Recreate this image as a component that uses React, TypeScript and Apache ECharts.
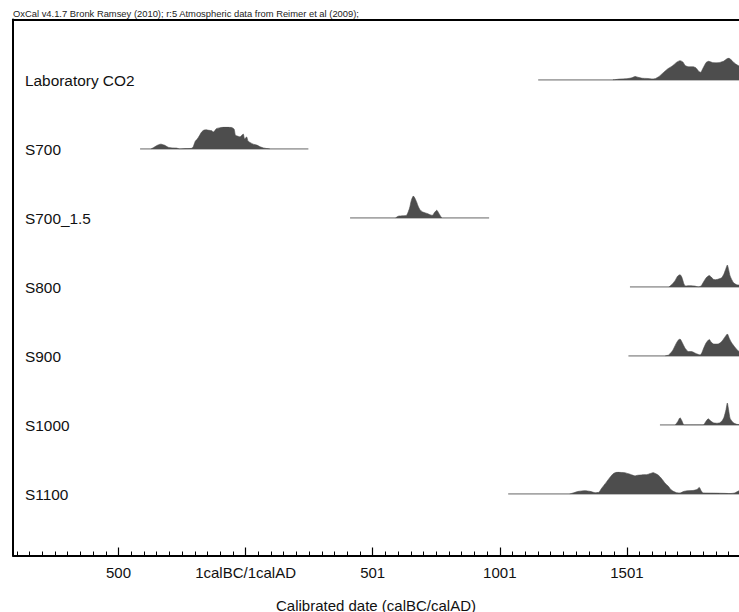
import React, { useEffect, useRef } from "react";
import * as echarts from "echarts";

// ---- data (years: negative = BC, 0 = 1calBC/1calAD boundary; density relative 0..1) ----
const sampleNames = ["Laboratory CO2", "S700", "S700_1.5", "S800", "S900", "S1000", "S1100"];
const rangeStarts = [1151, -415, 411, 1512, 1506, 1630, 1033];
const rangeEnds = [2000, 247, 958, 2000, 2000, 2000, 2000];

const labCO2: [number, number][] = [
  [1445, 0], [1470, 0.04], [1500, 0.06], [1520, 0.1], [1532, 0.16], [1545, 0.12], [1560, 0.08], [1580, 0.07],
  [1600, 0.05], [1611, 0.06], [1625, 0.15], [1640, 0.3], [1660, 0.5], [1680, 0.65], [1695, 0.8], [1709, 0.88],
  [1720, 0.82], [1730, 0.65], [1745, 0.6], [1760, 0.6], [1772, 0.55], [1782, 0.4], [1790, 0.35], [1800, 0.55],
  [1812, 0.8], [1822, 0.85], [1835, 0.8], [1850, 0.78], [1866, 0.8], [1880, 0.85], [1892, 0.95], [1900, 1.0],
  [1910, 0.92], [1925, 0.75], [1941, 0.64], [1960, 0.6],
];
const s700: [number, number][] = [
  [-372, 0], [-360, 0.08], [-345, 0.18], [-334, 0.22], [-320, 0.18], [-305, 0.08], [-290, 0.05], [-271, 0.04],
  [-260, 0], [-232, 0.02], [-213, 0.03], [-206, 0.1], [-198, 0.35], [-190, 0.45], [-182, 0.6], [-173, 0.77],
  [-165, 0.85], [-155, 0.87], [-145, 0.85], [-133, 0.83], [-127, 0.77], [-120, 0.85], [-114, 0.93], [-100, 0.97],
  [-85, 1.0], [-70, 1.0], [-55, 0.98], [-45, 0.9], [-40, 0.62], [-30, 0.58], [-22, 0.55], [-15, 0.62],
  [-9, 0.68], [-4, 0.45], [4, 0.55], [10, 0.35], [17, 0.3], [30, 0.22], [44, 0.18], [57, 0.1], [70, 0.05],
  [83, 0.02], [96, 0],
];
const s700_15: [number, number][] = [
  [590, 0], [600, 0.08], [620, 0.1], [634, 0.13], [645, 0.45], [652, 0.8], [660, 1.0], [667, 0.88], [673, 0.72],
  [680, 0.5], [686, 0.38], [695, 0.28], [705, 0.24], [715, 0.2], [725, 0.15], [735, 0.12], [743, 0.25],
  [752, 0.35], [760, 0.22], [767, 0.08], [772, 0],
];
const s800: [number, number][] = [
  [1665, 0], [1676, 0.1], [1690, 0.3], [1700, 0.5], [1709, 0.56], [1716, 0.45], [1724, 0.15], [1730, 0.05],
  [1750, 0.06], [1768, 0.04], [1780, 0], [1792, 0.05], [1800, 0.2], [1812, 0.42], [1824, 0.52], [1832, 0.45],
  [1840, 0.35], [1850, 0.33], [1860, 0.36], [1873, 0.42], [1882, 0.6], [1890, 0.85], [1895, 1.0], [1900, 0.8],
  [1906, 0.5], [1919, 0.2], [1932, 0.1], [1950, 0.08],
];
const s900: [number, number][] = [
  [1650, 0], [1665, 0.05], [1680, 0.25], [1693, 0.55], [1702, 0.72], [1709, 0.77], [1718, 0.6], [1729, 0.35],
  [1742, 0.2], [1755, 0.2], [1765, 0.15], [1774, 0.1], [1788, 0.05], [1795, 0.15], [1800, 0.3], [1812, 0.6],
  [1824, 0.75], [1832, 0.62], [1840, 0.55], [1850, 0.54], [1860, 0.55], [1870, 0.62], [1879, 0.75], [1888, 0.9],
  [1895, 1.0], [1903, 0.8], [1912, 0.6], [1925, 0.4], [1941, 0.2], [1960, 0.15],
];
const s1000: [number, number][] = [
  [1690, 0], [1700, 0.15], [1709, 0.33], [1716, 0.2], [1725, 0], [1800, 0], [1810, 0.15], [1820, 0.28],
  [1828, 0.2], [1840, 0.1], [1855, 0.08], [1866, 0.1], [1875, 0.2], [1882, 0.35], [1890, 0.7], [1895, 1.0],
  [1900, 0.7], [1906, 0.3], [1919, 0.1], [1932, 0.03], [1941, 0.02], [1960, 0.02],
];
const s1100: [number, number][] = [
  [1275, 0], [1289, 0.05], [1310, 0.12], [1335, 0.15], [1355, 0.12], [1375, 0.06], [1390, 0.08], [1400, 0.25],
  [1410, 0.4], [1420, 0.55], [1433, 0.75], [1446, 0.92], [1456, 0.98], [1466, 1.0], [1480, 0.98], [1492, 0.97],
  [1503, 0.93], [1512, 0.9], [1522, 0.86], [1532, 0.82], [1542, 0.85], [1552, 0.86], [1565, 0.88], [1578, 0.88],
  [1592, 0.93], [1604, 0.97], [1612, 0.93], [1624, 0.85], [1635, 0.72], [1643, 0.6], [1653, 0.45], [1663, 0.35],
  [1673, 0.2], [1683, 0.12], [1695, 0.06], [1710, 0.05], [1725, 0.12], [1740, 0.15], [1760, 0.16], [1775, 0.2],
  [1785, 0.3], [1792, 0.15], [1800, 0.05], [1840, 0.04], [1880, 0.03], [1906, 0.02], [1925, 0.05], [1941, 0.15],
  [1960, 0.2],
];
const densities = [labCO2, s700, s700_15, s800, s900, s1000, s1100];

const tickValues = [-500, 0, 500, 1000, 1500];
const tickLabels = ["500", "1calBC/1calAD", "501", "1001", "1501"];
const titleText = "OxCal v4.1.7 Bronk Ramsey (2010); r:5 Atmospheric data from Reimer et al (2009);";
const axisTitle = "Calibrated date (calBC/calAD)";

// ---- layout ----
const X_MIN = -915;
const X_MAX = 1941;
const FONT = "Liberation Sans, Arial, Helvetica, sans-serif";
const ROW0 = 80;
const ROW_STEP = 69;
const ROW_H = 22;
const GRID_LEFT = 13;
const BOX_TOP = 19.5;
const BOX_BOTTOM = 555.5;

export default function App() {
  const ref = useRef<HTMLDivElement>(null);
  useEffect(() => {
    document.body.style.margin = "0";
    if (!ref.current) return;
    const chart = echarts.init(ref.current, null, { renderer: "svg" });

    const grids: any[] = [];
    const xAxes: any[] = [];
    const yAxes: any[] = [];
    const series: any[] = [];

    sampleNames.forEach((name, i) => {
      const base = ROW0 + i * ROW_STEP;
      grids.push({ left: GRID_LEFT, right: 0, top: base - ROW_H, height: ROW_H });
      xAxes.push({ type: "value", gridIndex: i, min: X_MIN, max: X_MAX, show: false });
      yAxes.push({ type: "value", gridIndex: i, min: 0, max: 1, show: false });
      series.push({
        type: "line",
        name: name + " range",
        xAxisIndex: i,
        yAxisIndex: i,
        data: [[rangeStarts[i], 0], [rangeEnds[i], 0]],
        symbol: "none",
        lineStyle: { color: "#8a8a8a", width: 1.5 },
        silent: true,
        z: 2,
      });
      series.push({
        type: "line",
        name,
        xAxisIndex: i,
        yAxisIndex: i,
        data: densities[i],
        symbol: "none",
        smooth: 0.2,
        lineStyle: { width: 0.6, color: "#4d4d4d" },
        areaStyle: { color: "#4d4d4d", opacity: 1 },
        silent: true,
        z: 3,
      });
    });

    const mainIdx = sampleNames.length;
    grids.push({ left: GRID_LEFT, right: 0, top: BOX_TOP, bottom: 612 - BOX_BOTTOM });

    const minorTicks: number[] = [];
    for (let v = -900; v <= 1900; v += 50) if (v % 500 !== 0) minorTicks.push(v);

    xAxes.push({
      type: "value",
      gridIndex: mainIdx,
      min: X_MIN,
      max: X_MAX,
      position: "bottom",
      axisLine: { show: true, onZero: false, lineStyle: { color: "#000", width: 2 } },
      axisTick: { show: true, inside: true, length: 8, customValues: tickValues, lineStyle: { color: "#000", width: 1.2 } },
      axisLabel: {
        show: true,
        customValues: tickValues,
        margin: 9,
        fontSize: 15,
        fontFamily: FONT,
        color: "#111",
        formatter: (v: number) => {
          const k = tickValues.indexOf(v);
          return k >= 0 ? tickLabels[k] : "";
        },
      },
      splitLine: { show: false },
    });
    xAxes.push({
      type: "value",
      gridIndex: mainIdx,
      min: X_MIN,
      max: X_MAX,
      position: "bottom",
      offset: 0,
      axisLine: { show: false, onZero: false },
      axisTick: { show: true, inside: true, length: 4, customValues: minorTicks, lineStyle: { color: "#000", width: 1 } },
      axisLabel: { show: false },
      splitLine: { show: false },
    });
    xAxes.push({
      type: "value",
      gridIndex: mainIdx,
      min: X_MIN,
      max: X_MAX,
      position: "top",
      axisLine: { show: true, onZero: false, lineStyle: { color: "#000", width: 2 } },
      axisTick: { show: false },
      axisLabel: { show: false },
      splitLine: { show: false },
    });
    yAxes.push({
      type: "value",
      gridIndex: mainIdx,
      min: 0,
      max: 1,
      position: "left",
      axisLine: { show: true, onZero: false, lineStyle: { color: "#000", width: 2 } },
      axisTick: { show: false },
      axisLabel: { show: false },
      splitLine: { show: false },
    });

    const graphics: any[] = [
      {
        type: "text",
        left: 13,
        top: 9,
        style: { text: titleText, font: `9.4px ${FONT}`, fill: "#222" },
        silent: true,
      },
      {
        type: "text",
        x: 376,
        y: 605,
        style: { text: axisTitle, font: `15px ${FONT}`, fill: "#111", align: "center", verticalAlign: "middle" },
        silent: true,
      },
    ];
    sampleNames.forEach((name, i) => {
      graphics.push({
        type: "text",
        x: 25,
        y: ROW0 + i * ROW_STEP,
        style: { text: name, font: `15.4px ${FONT}`, fill: "#111", align: "left", verticalAlign: "middle" },
        silent: true,
      });
    });

    chart.setOption({
      animation: false,
      backgroundColor: "#fff",
      grid: grids,
      xAxis: xAxes,
      yAxis: yAxes,
      series,
      graphic: graphics,
    });
    return () => chart.dispose();
  }, []);
  return <div ref={ref} style={{ width: 739, height: 612 }} />;
}
